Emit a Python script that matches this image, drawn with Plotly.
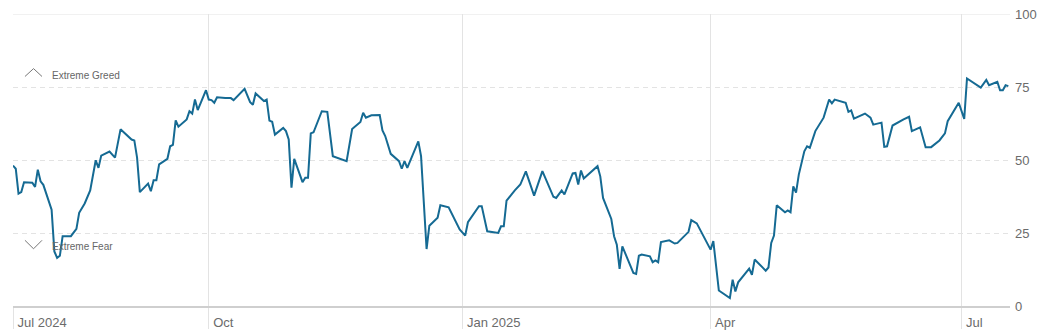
import plotly.graph_objects as go

dates = [
    "2024-07-22", "2024-07-23", "2024-07-24", "2024-07-25", "2024-07-26", "2024-07-29", "2024-07-30",
    "2024-07-31", "2024-08-01", "2024-08-02", "2024-08-05", "2024-08-06", "2024-08-07", "2024-08-08",
    "2024-08-09", "2024-08-12", "2024-08-14", "2024-08-15", "2024-08-17", "2024-08-19", "2024-08-21",
    "2024-08-22", "2024-08-23", "2024-08-26", "2024-08-28", "2024-08-30", "2024-09-03", "2024-09-04",
    "2024-09-05", "2024-09-06", "2024-09-09", "2024-09-10", "2024-09-11", "2024-09-12", "2024-09-13",
    "2024-09-16", "2024-09-17", "2024-09-18", "2024-09-19", "2024-09-20", "2024-09-23", "2024-09-24",
    "2024-09-25", "2024-09-26", "2024-09-27", "2024-09-30", "2024-10-01", "2024-10-02", "2024-10-03",
    "2024-10-04", "2024-10-07", "2024-10-08", "2024-10-09", "2024-10-10", "2024-10-14", "2024-10-16",
    "2024-10-17", "2024-10-18", "2024-10-21", "2024-10-22", "2024-10-23", "2024-10-24", "2024-10-25",
    "2024-10-28", "2024-10-29", "2024-10-30", "2024-10-31", "2024-11-01", "2024-11-04", "2024-11-05",
    "2024-11-06", "2024-11-07", "2024-11-08", "2024-11-11", "2024-11-13", "2024-11-15", "2024-11-19",
    "2024-11-20", "2024-11-22", "2024-11-25", "2024-11-26", "2024-11-27", "2024-11-29", "2024-12-02",
    "2024-12-03", "2024-12-04", "2024-12-06", "2024-12-09", "2024-12-10", "2024-12-11", "2024-12-12",
    "2024-12-16", "2024-12-17", "2024-12-19", "2024-12-20", "2024-12-23", "2024-12-24", "2024-12-27",
    "2024-12-31", "2025-01-02", "2025-01-03", "2025-01-07", "2025-01-08", "2025-01-10", "2025-01-14",
    "2025-01-15", "2025-01-16", "2025-01-17", "2025-01-20", "2025-01-22", "2025-01-24", "2025-01-27",
    "2025-01-30", "2025-02-03", "2025-02-04", "2025-02-06", "2025-02-07", "2025-02-10", "2025-02-11",
    "2025-02-12", "2025-02-13", "2025-02-14", "2025-02-19", "2025-02-20", "2025-02-21", "2025-02-24",
    "2025-02-25", "2025-02-26", "2025-02-27", "2025-02-28", "2025-03-02", "2025-03-04", "2025-03-05",
    "2025-03-06", "2025-03-07", "2025-03-10", "2025-03-11", "2025-03-12", "2025-03-13", "2025-03-14",
    "2025-03-17", "2025-03-19", "2025-03-20", "2025-03-24", "2025-03-25", "2025-03-27", "2025-04-01",
    "2025-04-02", "2025-04-04", "2025-04-08", "2025-04-09", "2025-04-10", "2025-04-11", "2025-04-15",
    "2025-04-16", "2025-04-17", "2025-04-21", "2025-04-22", "2025-04-23", "2025-04-24", "2025-04-25",
    "2025-04-28", "2025-04-29", "2025-04-30", "2025-05-01", "2025-05-02", "2025-05-03", "2025-05-05",
    "2025-05-06", "2025-05-07", "2025-05-09", "2025-05-12", "2025-05-14", "2025-05-15", "2025-05-16",
    "2025-05-20", "2025-05-21", "2025-05-22", "2025-05-23", "2025-05-27", "2025-05-29", "2025-05-30",
    "2025-06-02", "2025-06-03", "2025-06-04", "2025-06-06", "2025-06-10", "2025-06-12", "2025-06-13",
    "2025-06-16", "2025-06-18", "2025-06-20", "2025-06-23", "2025-06-25", "2025-06-26", "2025-06-30",
    "2025-07-02", "2025-07-03", "2025-07-08", "2025-07-10", "2025-07-11", "2025-07-14", "2025-07-15",
    "2025-07-16", "2025-07-17", "2025-07-18",
]

index_values = [
    48.1, 47.0, 38.5, 39.0, 42.4, 42.2, 40.8,
    46.7, 42.7, 41.5, 33.0, 18.7, 16.5, 17.2,
    23.9, 23.9, 26.4, 31.9, 35.1, 39.6, 49.9,
    47.3, 51.5, 52.9, 50.8, 60.5, 57.0, 56.7,
    50.8, 39.0, 41.9, 39.3, 43.1, 43.1, 48.5,
    50.4, 54.7, 55.2, 63.6, 61.4, 63.9, 66.7,
    65.9, 70.7, 67.1, 73.9, 70.7, 70.5, 69.6,
    71.5, 71.2, 71.3, 71.2, 70.5, 74.4, 69.8,
    68.9, 72.8, 70.2, 70.7, 63.5, 63.1, 58.7,
    61.0, 59.9, 57.0, 40.5, 50.4, 42.4, 43.9,
    43.9, 59.1, 59.5, 66.7, 66.5, 51.3, 49.8,
    49.6, 60.6, 63.0, 66.2, 64.5, 65.3, 65.4,
    60.1, 58.2, 52.1, 49.6, 47.0, 49.6, 47.3,
    56.4, 51.3, 19.5, 27.5, 30.2, 34.5, 33.8,
    26.2, 24.1, 28.7, 34.2, 34.2, 25.6, 25.0,
    27.3, 27.3, 36.1, 39.6, 41.6, 46.1, 37.8,
    46.2, 37.4, 37.0, 39.6, 38.2, 45.4, 45.6,
    41.6, 46.4, 43.7, 47.9, 44.4, 37.0, 29.8,
    23.9, 21.0, 12.7, 20.4, 15.9, 11.3, 11.0,
    17.2, 17.6, 17.0, 15.0, 15.6, 15.0, 21.9,
    22.5, 21.4, 21.6, 25.4, 29.4, 28.3, 19.3,
    22.2, 5.3, 2.7, 9.0, 5.0, 8.1, 12.8,
    10.7, 15.9, 12.1, 13.2, 21.6, 24.1, 34.5,
    32.1, 32.7, 32.1, 41.0, 38.8, 45.0, 53.0,
    54.7, 54.2, 59.9, 64.5, 70.7, 69.4, 70.7,
    69.6, 66.5, 67.0, 64.2, 65.9, 64.5, 62.1,
    62.8, 54.5, 54.7, 61.8, 63.9, 64.8, 59.9,
    61.2, 54.4, 54.4, 56.7, 59.1, 63.3, 69.6,
    64.1, 77.9, 74.8, 77.4, 75.6, 76.8, 73.9,
    73.9, 75.6, 75.3,
]

x_range = ["2024-07-22", "2025-07-18 14:24"]
x_tick_vals = ["2024-07-22", "2024-10-01", "2025-01-01", "2025-04-01", "2025-07-01"]
x_tick_text = ["Jul 2024", "Oct", "Jan 2025", "Apr", "Jul"]
y_tick_vals = [0, 25, 50, 75, 100]
y_tick_text = ["0", "25", "50", "75", "100"]

LINE = "#156a93"
LABEL = "#6b6b6b"
FONT = "Liberation Sans, Arial, sans-serif"

fig = go.Figure()
fig.add_trace(go.Scatter(
    x=dates, y=index_values, mode="lines",
    line=dict(color=LINE, width=2), hoverinfo="skip", showlegend=False,
))

fig.update_layout(
    width=1054, height=335,
    margin=dict(l=13, r=44, t=14, b=29),
    paper_bgcolor="white", plot_bgcolor="white",
    font=dict(family=FONT, color=LABEL, size=13),
    showlegend=False,
    xaxis=dict(
        type="date", range=x_range, automargin=False,
        tickmode="array", tickvals=x_tick_vals, ticktext=x_tick_text,
        showgrid=True, gridcolor="#e3e3e3", gridwidth=1,
        ticks="outside", ticklen=21, tickcolor="#e3e3e3", tickwidth=1,
        ticklabelposition="outside right", ticklabelstandoff=3, ticklabelshift=3,
        showline=True, linecolor="#cfcfcf", linewidth=2,
        tickfont=dict(size=13, color=LABEL),
        zeroline=False, fixedrange=True,
    ),
    yaxis=dict(
        range=[0, 100], side="right", automargin=False,
        tickmode="array", tickvals=y_tick_vals, ticktext=y_tick_text,
        showgrid=True, gridcolor="#e3e3e3", gridwidth=1, griddash="5px,4px",
        ticks="", ticklabelstandoff=4,
        showline=False, zeroline=False,
        tickfont=dict(size=13, color=LABEL), fixedrange=True,
    ),
)

# solid top border line at 100
fig.add_shape(type="line", xref="paper", yref="y", x0=0, x1=1, y0=100, y1=100,
              line=dict(color="#e3e3e3", width=1), layer="below")

# Extreme greed / fear markers
fig.add_shape(type="path", xref="paper", yref="y",
              path="M 0.012 78.6 L 0.0206 81.3 L 0.0291 78.6",
              line=dict(color="#777777", width=1))
fig.add_shape(type="path", xref="paper", yref="y",
              path="M 0.012 22.5 L 0.0206 19.6 L 0.0291 22.5",
              line=dict(color="#777777", width=1))
fig.add_annotation(text="Extreme Greed", xref="paper", yref="y", x=0.0371, y=79.0,
                   xanchor="left", yanchor="middle", showarrow=False,
                   font=dict(size=10, color="#666666", family=FONT))
fig.add_annotation(text="Extreme Fear", xref="paper", yref="y", x=0.0371, y=20.4,
                   xanchor="left", yanchor="middle", showarrow=False,
                   font=dict(size=10, color="#666666", family=FONT))

fig.write_html("out.html")
